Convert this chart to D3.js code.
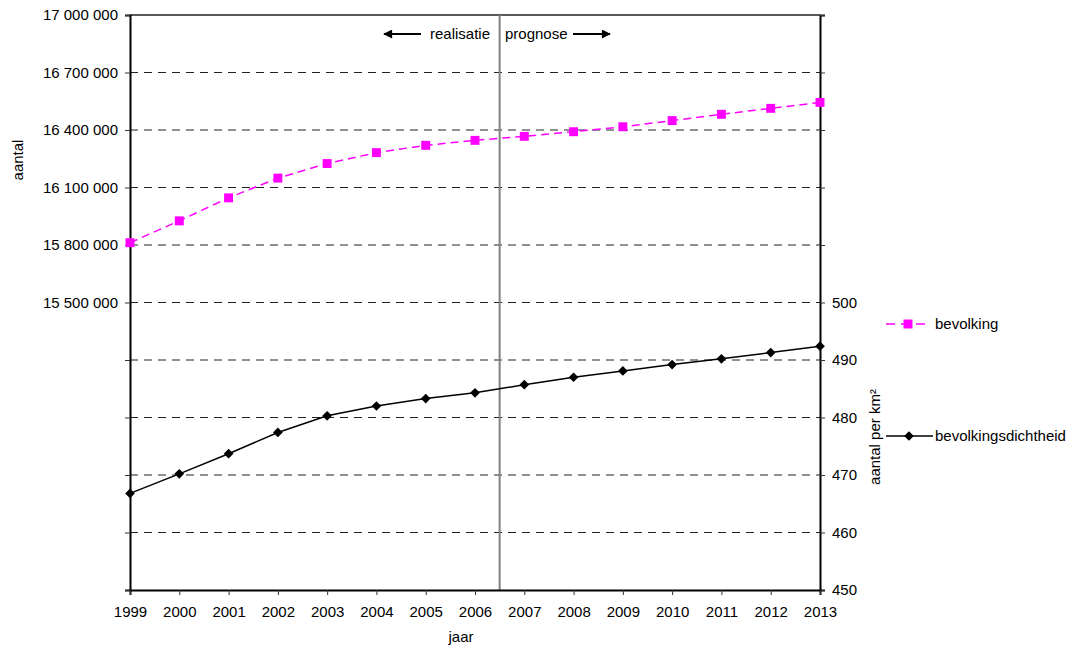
<!DOCTYPE html>
<html>
<head>
<meta charset="utf-8">
<script src="https://cdn.jsdelivr.net/npm/d3@7"></script>
<style>
body { margin: 0; background: #fff; }
svg text { font-family: "Liberation Sans", Arial, sans-serif; fill: #000; }
</style>
</head>
<body>
<div id="viz"></div>
<script>
var width = 1070
var height = 646

var years = [1999, 2000, 2001, 2002, 2003, 2004, 2005, 2006, 2007, 2008, 2009, 2010, 2011, 2012, 2013];
var bevolking = [15812000, 15926000, 16046000, 16149000, 16225000, 16282000, 16320000, 16346000,
	16367000, 16391000, 16417000, 16449000, 16482000, 16513000, 16544000];
var dichtheid = [466.8, 470.2, 473.7, 477.4, 480.3, 482.0, 483.3, 484.3,
	485.7, 487.0, 488.1, 489.2, 490.2, 491.3, 492.4];
var leftTicks = [14000000, 14300000, 14600000, 14900000, 15200000, 15500000, 15800000, 16100000, 16400000, 16700000, 17000000];
var leftLabelMin = 15500000;
var rightTicks = [450, 460, 470, 480, 490, 500, 510, 520, 530, 540, 550];
var rightLabelMax = 500;
var splitYear = 2006.5;

var plotLeft = 130, plotRight = 820, plotTop = 15, plotBottom = 590;

var canvas = d3.select("#viz")
	.append("svg")
	.attr("width", width)
	.attr("height", height);

var locale = d3.formatLocale({decimal: ",", thousands: " ", grouping: [3], currency: ["", ""]});
var fmt = locale.format(",d");

var xScale = d3.scaleLinear()
	.domain([years[0], years[years.length - 1]])
	.range([plotLeft, plotRight]);

var yLeft = d3.scaleLinear()
	.domain([leftTicks[0], leftTicks[leftTicks.length - 1]])
	.range([plotBottom, plotTop]);

var yRight = d3.scaleLinear()
	.domain([rightTicks[0], rightTicks[rightTicks.length - 1]])
	.range([plotBottom, plotTop]);

// dashed gridlines
canvas.append("g")
	.selectAll("line")
	.data(leftTicks.slice(1, -1))
	.enter()
	.append("line")
	.attr("x1", plotLeft).attr("x2", plotRight)
	.attr("y1", function(d){ return yLeft(d); })
	.attr("y2", function(d){ return yLeft(d); })
	.attr("stroke", "#222")
	.attr("stroke-width", 1)
	.attr("stroke-dasharray", "8,6");

// top border
canvas.append("line")
	.attr("x1", plotLeft).attr("x2", plotRight)
	.attr("y1", plotTop).attr("y2", plotTop)
	.attr("stroke", "#222").attr("stroke-width", 1.5);

// realisatie / prognose divider
canvas.append("line")
	.attr("x1", xScale(splitYear)).attr("x2", xScale(splitYear))
	.attr("y1", plotTop).attr("y2", plotBottom)
	.attr("stroke", "#808080").attr("stroke-width", 2);

var leftAxis = d3.axisLeft(yLeft)
	.tickValues(leftTicks)
	.tickSize(5)
	.tickPadding(7)
	.tickFormat(function(d){ return d >= leftLabelMin ? fmt(d) : ""; });

var rightAxis = d3.axisRight(yRight)
	.tickValues(rightTicks)
	.tickSize(5)
	.tickPadding(7)
	.tickFormat(function(d){ return d <= rightLabelMax ? d : ""; });

var bottomAxis = d3.axisBottom(xScale)
	.tickValues(years)
	.tickSize(5)
	.tickPadding(11)
	.tickFormat(d3.format("d"));

function styleAxis(g) {
	g.select(".domain").attr("stroke", "#000").attr("stroke-width", 2);
	g.selectAll(".tick line").attr("stroke", "#333");
	g.selectAll("text").attr("font-size", 15).attr("font-family", "Liberation Sans, Arial, sans-serif");
}

canvas.append("g")
	.attr("transform", "translate(" + plotLeft + ",0)")
	.call(leftAxis)
	.call(styleAxis);

canvas.append("g")
	.attr("transform", "translate(" + plotRight + ",0)")
	.call(rightAxis)
	.call(styleAxis);

canvas.append("g")
	.attr("transform", "translate(0," + plotBottom + ")")
	.call(bottomAxis)
	.call(styleAxis);

// series lines
var lineBev = d3.line()
	.x(function(d, i){ return xScale(years[i]); })
	.y(function(d){ return yLeft(d); });

var lineDicht = d3.line()
	.x(function(d, i){ return xScale(years[i]); })
	.y(function(d){ return yRight(d); });

canvas.append("path")
	.datum(dichtheid)
	.attr("d", lineDicht)
	.attr("fill", "none")
	.attr("stroke", "#000")
	.attr("stroke-width", 1.5);

canvas.append("path")
	.datum(bevolking)
	.attr("d", lineBev)
	.attr("fill", "none")
	.attr("stroke", "#ff00ff")
	.attr("stroke-width", 1.5)
	.attr("stroke-dasharray", "8,5");

var diamond = d3.symbol().type(d3.symbolDiamond2).size(60);
var square = d3.symbol().type(d3.symbolSquare).size(80);

canvas.append("g")
	.selectAll("path")
	.data(dichtheid)
	.enter()
	.append("path")
	.attr("d", diamond)
	.attr("transform", function(d, i){ return "translate(" + xScale(years[i]) + "," + yRight(d) + ")"; })
	.attr("fill", "#000");

canvas.append("g")
	.selectAll("path")
	.data(bevolking)
	.enter()
	.append("path")
	.attr("d", square)
	.attr("transform", function(d, i){ return "translate(" + xScale(years[i]) + "," + yLeft(d) + ")"; })
	.attr("fill", "#ff00ff");

// header arrows
var arrowY = 34;
canvas.append("defs").append("marker")
	.attr("id", "head")
	.attr("viewBox", "0 0 10 10")
	.attr("refX", 9).attr("refY", 5)
	.attr("markerWidth", 12).attr("markerHeight", 9)
	.attr("markerUnits", "userSpaceOnUse")
	.attr("orient", "auto")
	.append("path")
	.attr("d", "M0,0 L10,5 L0,10 Z")
	.attr("fill", "#000");

canvas.append("line")
	.attr("x1", 421).attr("x2", 384)
	.attr("y1", arrowY).attr("y2", arrowY)
	.attr("stroke", "#000").attr("stroke-width", 2)
	.attr("marker-end", "url(#head)");

canvas.append("line")
	.attr("x1", 573).attr("x2", 610)
	.attr("y1", arrowY).attr("y2", arrowY)
	.attr("stroke", "#000").attr("stroke-width", 2)
	.attr("marker-end", "url(#head)");

canvas.append("text")
	.text("realisatie")
	.attr("x", 490).attr("y", arrowY + 5)
	.attr("text-anchor", "end")
	.attr("font-size", 15);

canvas.append("text")
	.text("prognose")
	.attr("x", 505).attr("y", arrowY + 5)
	.attr("font-size", 15);

// axis titles
canvas.append("text")
	.text("aantal")
	.attr("transform", "translate(23,160) rotate(-90)")
	.attr("text-anchor", "middle")
	.attr("font-size", 15);

canvas.append("text")
	.text("aantal per km²")
	.attr("transform", "translate(880,437) rotate(-90)")
	.attr("text-anchor", "middle")
	.attr("font-size", 15);

canvas.append("text")
	.text("jaar")
	.attr("x", 461).attr("y", 642)
	.attr("text-anchor", "middle")
	.attr("font-size", 15);

// legend
var legend = canvas.append("g");

legend.append("line")
	.attr("x1", 886).attr("x2", 928)
	.attr("y1", 324).attr("y2", 324)
	.attr("stroke", "#ff00ff").attr("stroke-width", 1.5)
	.attr("stroke-dasharray", "9,6");
legend.append("path")
	.attr("d", square)
	.attr("transform", "translate(908,324)")
	.attr("fill", "#ff00ff");
legend.append("text")
	.text("bevolking")
	.attr("x", 935).attr("y", 329)
	.attr("font-size", 15);

legend.append("line")
	.attr("x1", 886).attr("x2", 933)
	.attr("y1", 436).attr("y2", 436)
	.attr("stroke", "#000").attr("stroke-width", 1.5);
legend.append("path")
	.attr("d", diamond)
	.attr("transform", "translate(909,436)")
	.attr("fill", "#000");
legend.append("text")
	.text("bevolkingsdichtheid")
	.attr("x", 935).attr("y", 441)
	.attr("font-size", 15);
</script>
</body>
</html>
